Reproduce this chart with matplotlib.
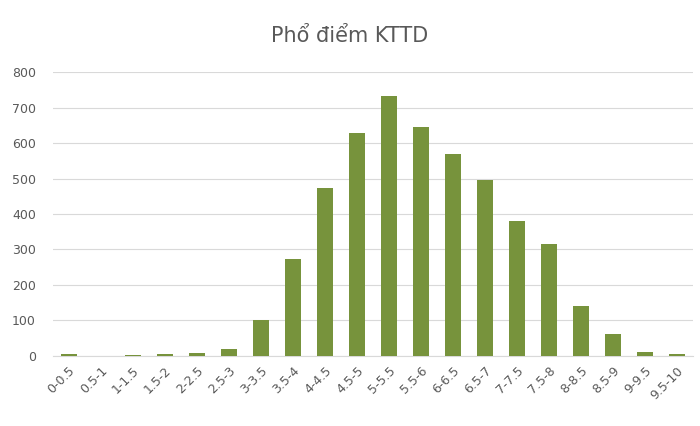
import matplotlib.pyplot as plt

bins = ["0-0.5", "0.5-1", "1-1.5", "1.5-2", "2-2.5", "2.5-3", "3-3.5", "3.5-4",
        "4-4.5", "4.5-5", "5-5.5", "5.5-6", "6-6.5", "6.5-7", "7-7.5", "7.5-8",
        "8-8.5", "8.5-9", "9-9.5", "9.5-10"]
counts = [4, 0, 3, 4, 8, 20, 102, 274, 473, 628, 733, 646, 570, 497, 380, 316,
          139, 62, 10, 4]

fig = plt.figure(figsize=(7, 4.26), dpi=100)
ax = fig.add_axes([0.075, 0.165, 0.915, 0.665])
ax.bar(range(len(bins)), counts, width=0.5, color="#77933C", zorder=3)
ax.set_ylim(0, 800)
ax.set_yticks(range(0, 801, 100))
ax.set_xlim(-0.5, len(bins) - 0.5)
ax.set_xticks(range(len(bins)))
ax.set_xticklabels(bins, rotation=45, ha="right", rotation_mode="anchor")
ax.grid(axis="y", color="#D9D9D9", linewidth=0.8, zorder=0)
for s in ["top", "right", "left"]:
    ax.spines[s].set_visible(False)
ax.spines["bottom"].set_color("#D9D9D9")
ax.tick_params(length=0, labelsize=9, colors="#595959")
ax.tick_params(axis="x", pad=6)
ax.tick_params(axis="y", pad=12)
fig.suptitle("Phổ điểm KTTD", y=0.94, fontsize=15, color="#595959")
fig.savefig("out.png")
